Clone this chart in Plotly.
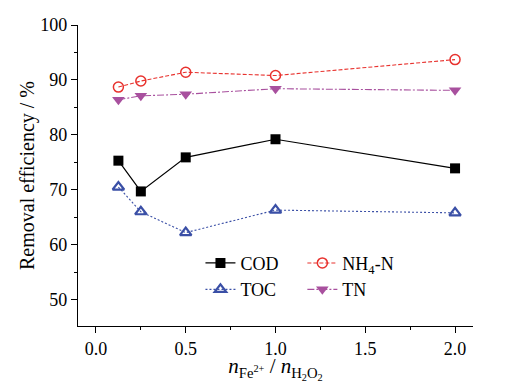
import plotly.graph_objects as go

ratio = [0.125, 0.25, 0.5, 1.0, 2.0]
cod = [75.3, 69.7, 75.9, 79.2, 73.9]
nh4n = [88.7, 89.8, 91.4, 90.8, 93.7]
toc = [70.5, 66.0, 62.2, 66.3, 65.8]
tn = [86.4, 87.1, 87.4, 88.4, 88.1]

FONT = "Liberation Serif, Times New Roman, serif"

fig = go.Figure()
fig.add_trace(go.Scatter(x=ratio, y=cod, name="COD", mode="lines+markers",
                         line=dict(color="black", width=1.2),
                         marker=dict(symbol="square", size=10, color="black"),
                         legend="legend"))
fig.add_trace(go.Scatter(x=ratio, y=toc, name="TOC", mode="lines+markers",
                         line=dict(color="#3A4FA6", width=1.1, dash="2px,2px"),
                         marker=dict(symbol="triangle-up-open", size=10, color="#3A4FA6",
                                     line=dict(width=2.2)),
                         legend="legend"))
fig.add_trace(go.Scatter(x=ratio, y=nh4n, name="NH<sub>4</sub>-N", mode="lines+markers",
                         line=dict(color="#E8322E", width=1.1, dash="4px,2px"),
                         marker=dict(symbol="circle-open", size=10, color="#E8322E",
                                     line=dict(width=1.5)),
                         legend="legend2"))
fig.add_trace(go.Scatter(x=ratio, y=tn, name="TN", mode="lines+markers",
                         line=dict(color="#A8509E", width=1.1, dash="7px,2px,2px,2px"),
                         marker=dict(symbol="triangle-down", size=11, color="#A8509E"),
                         legend="legend2"))

axis_common = dict(showline=True, linecolor="black", linewidth=1.2, ticks="outside",
                   ticklen=6, tickwidth=1.2, tickcolor="black", showgrid=False,
                   zeroline=False, mirror=False, automargin=False,
                   tickfont=dict(family=FONT, size=18, color="black"))

fig.update_xaxes(range=[-0.1, 2.1], tickvals=[0, 0.5, 1.0, 1.5, 2.0],
                 ticktext=["0.0", "0.5", "1.0", "1.5", "2.0"],
                 minor=dict(tickvals=[0.25, 0.75, 1.25, 1.75], ticks="outside",
                            ticklen=3, tickcolor="black", tickwidth=1.2),
                 title=dict(text="<i>n</i><sub>Fe<sup>2+</sup></sub> / <i>n</i><sub>H<sub>2</sub>O<sub>2</sub></sub>",
                            font=dict(family=FONT, size=21, color="black"), standoff=9),
                 **axis_common)
fig.update_yaxes(range=[45.2, 100], tickvals=[50, 60, 70, 80, 90, 100],
                 minor=dict(tickvals=[55, 65, 75, 85, 95], ticks="outside",
                            ticklen=3, tickcolor="black", tickwidth=1.2),
                 title=dict(text="Removal efficiency / %",
                            font=dict(family=FONT, size=20, color="black"), standoff=0),
                 **axis_common)

legend_common = dict(font=dict(family=FONT, size=18, color="black"),
                     bgcolor="rgba(0,0,0,0)", tracegroupgap=0, itemwidth=30,
                     xanchor="left", yanchor="top", orientation="v")
fig.update_layout(
    template="none",
    font=dict(family=FONT, size=18, color="black"),
    width=516, height=383,
    margin=dict(l=78, r=43, t=25, b=57),
    paper_bgcolor="white", plot_bgcolor="white",
    legend=dict(x=0.31, y=0.27, **legend_common),
    legend2=dict(x=0.568, y=0.27, **legend_common),
)

fig.write_html("out.html", config={"displayModeBar": False},
               post_script="document.body.style.margin='0';document.body.style.overflow='hidden';")
